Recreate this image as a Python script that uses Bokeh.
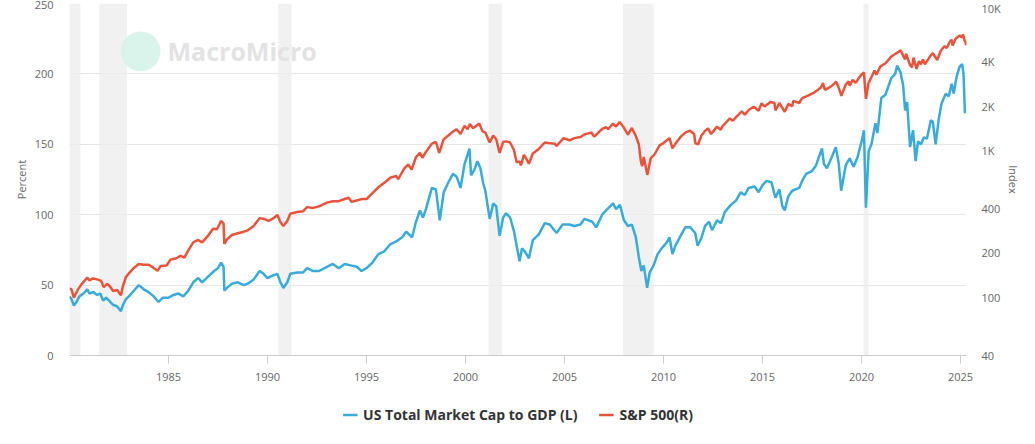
from bokeh.plotting import figure
from bokeh.layouts import column
from bokeh.models import (Range1d, LogAxis, LogScale, FixedTicker, Legend, LegendItem,
                          ColumnDataSource)
from bokeh.core.properties import value
from bokeh.embed import file_html
from bokeh.resources import INLINE

# ---------------- data ----------------
mcap_years = [1980.00, 1980.10, 1980.22, 1980.35, 1980.50, 1980.70, 1980.90, 1981.00, 1981.20, 1981.40,
              1981.55, 1981.70, 1981.85, 1982.00, 1982.20, 1982.40, 1982.60, 1982.70, 1982.85, 1983.00,
              1983.25, 1983.50, 1983.75, 1984.00, 1984.25, 1984.50, 1984.70, 1985.00, 1985.25, 1985.50,
              1985.75, 1986.00, 1986.25, 1986.50, 1986.70, 1987.00, 1987.30, 1987.50, 1987.65, 1987.78,
              1987.82, 1987.95, 1988.20, 1988.50, 1988.80, 1989.00, 1989.30, 1989.60, 1989.80, 1990.00,
              1990.30, 1990.50, 1990.65, 1990.80, 1991.00, 1991.15, 1991.50, 1991.80, 1992.00, 1992.30,
              1992.60, 1993.00, 1993.30, 1993.60, 1993.90, 1994.20, 1994.50, 1994.75, 1995.00, 1995.30,
              1995.60, 1995.90, 1996.20, 1996.50, 1996.80, 1997.00, 1997.30, 1997.50, 1997.70, 1997.85,
              1998.00, 1998.30, 1998.50, 1998.70, 1998.90, 1999.10, 1999.36, 1999.55, 1999.75, 1999.95,
              2000.20, 2000.28, 2000.45, 2000.60, 2000.75, 2000.90, 2001.00, 2001.22, 2001.40, 2001.55,
              2001.72, 2001.90, 2002.05, 2002.25, 2002.45, 2002.58, 2002.73, 2002.85, 2003.00, 2003.20,
              2003.40, 2003.70, 2004.00, 2004.25, 2004.60, 2004.90, 2005.25, 2005.50, 2005.80, 2006.00,
              2006.40, 2006.60, 2006.90, 2007.10, 2007.45, 2007.60, 2007.80, 2008.00, 2008.20, 2008.40,
              2008.60, 2008.75, 2008.88, 2009.00, 2009.17, 2009.30, 2009.50, 2009.70, 2009.96, 2010.15,
              2010.30, 2010.45, 2010.60, 2010.90, 2011.10, 2011.35, 2011.60, 2011.72, 2011.90, 2012.10,
              2012.30, 2012.45, 2012.70, 2012.90, 2013.10, 2013.40, 2013.66, 2013.90, 2014.10, 2014.30,
              2014.60, 2014.80, 2015.00, 2015.20, 2015.45, 2015.65, 2015.85, 2016.00, 2016.12, 2016.30,
              2016.50, 2016.85, 2017.00, 2017.20, 2017.50, 2017.70, 2018.00, 2018.10, 2018.25, 2018.50,
              2018.70, 2018.85, 2018.97, 2019.20, 2019.40, 2019.60, 2019.80, 2020.00, 2020.12, 2020.22,
              2020.36, 2020.50, 2020.70, 2020.80, 2021.00, 2021.20, 2021.50, 2021.70, 2021.80, 2021.97,
              2022.10, 2022.20, 2022.30, 2022.45, 2022.60, 2022.73, 2022.85, 2023.00, 2023.15, 2023.30,
              2023.50, 2023.60, 2023.74, 2023.90, 2024.04, 2024.25, 2024.40, 2024.55, 2024.65, 2024.80,
              2024.95, 2025.08, 2025.15, 2025.22]
mcap_to_gdp = [42, 40, 35.5, 38, 42, 44, 47, 44, 45, 43,
               44, 39, 41, 39, 36, 35, 31.5, 36, 40, 42,
               46, 50, 47, 45, 42, 38, 41, 41, 43, 44,
               42, 46, 52, 55, 52, 56, 60, 62, 66, 63,
               46, 48, 51, 52, 50, 51, 54, 60, 58, 55,
               57, 58, 52, 48, 52, 58, 59, 59, 62, 60,
               60, 63, 65, 62, 65, 64, 63, 60, 62, 66,
               72, 74, 79, 81, 84, 88, 84, 95, 103, 98,
               104, 119, 118, 96, 116, 122, 129, 127, 119, 136,
               147, 128, 132, 138, 133, 122, 117, 97, 108, 106,
               85, 98, 101, 98, 88, 78, 67, 76, 74, 69,
               82, 86, 94, 93, 87, 93, 93, 92, 93, 97,
               95, 91, 100, 103, 108, 104, 107, 96, 92, 93,
               84, 70, 60, 64, 48, 59, 64, 72, 77, 80,
               84, 72, 78, 86, 91, 91, 87, 78, 83, 92,
               95, 89, 96, 94, 102, 107, 110, 116, 114, 119,
               120, 116, 121, 124, 123, 112, 118, 106, 103, 113,
               117, 119, 124, 129, 131, 135, 147, 136, 133, 141,
               148, 136, 117, 135, 140, 134, 141, 152, 160, 105,
               145, 150, 165, 158, 183, 185, 197, 200, 206, 201,
               192, 174, 180, 148, 160, 138, 152, 150, 155, 154,
               167, 166, 150, 168, 179, 186, 184, 193, 186, 198,
               205, 207, 200, 172]

spx_years = [1980.00, 1980.10, 1980.22, 1980.40, 1980.60, 1980.90, 1981.00, 1981.20, 1981.40, 1981.60,
             1981.72, 1981.90, 1982.05, 1982.20, 1982.40, 1982.60, 1982.70, 1982.85, 1983.00, 1983.25,
             1983.50, 1983.75, 1984.00, 1984.25, 1984.45, 1984.60, 1984.90, 1985.10, 1985.40, 1985.60,
             1985.80, 1986.00, 1986.25, 1986.50, 1986.70, 1987.00, 1987.25, 1987.45, 1987.65, 1987.78,
             1987.82, 1987.95, 1988.20, 1988.50, 1988.80, 1989.00, 1989.30, 1989.60, 1989.85, 1990.05,
             1990.30, 1990.50, 1990.65, 1990.80, 1991.00, 1991.15, 1991.50, 1991.80, 1992.00, 1992.30,
             1992.60, 1993.00, 1993.30, 1993.60, 1993.90, 1994.10, 1994.25, 1994.50, 1994.75, 1995.00,
             1995.30, 1995.60, 1995.90, 1996.20, 1996.50, 1996.60, 1996.90, 1997.10, 1997.28, 1997.50,
             1997.70, 1997.82, 1998.00, 1998.30, 1998.50, 1998.67, 1998.90, 1999.10, 1999.36, 1999.55,
             1999.75, 1999.95, 2000.10, 2000.22, 2000.38, 2000.55, 2000.70, 2000.85, 2001.00, 2001.22,
             2001.40, 2001.55, 2001.72, 2001.90, 2002.05, 2002.25, 2002.45, 2002.58, 2002.73, 2002.80,
             2002.95, 2003.10, 2003.20, 2003.40, 2003.70, 2004.00, 2004.20, 2004.50, 2004.60, 2004.95,
             2005.25, 2005.50, 2005.80, 2006.00, 2006.35, 2006.50, 2006.90, 2007.10, 2007.20, 2007.45,
             2007.60, 2007.78, 2007.95, 2008.20, 2008.40, 2008.60, 2008.75, 2008.85, 2008.92, 2009.00,
             2009.18, 2009.35, 2009.55, 2009.80, 2010.00, 2010.30, 2010.45, 2010.60, 2010.90, 2011.10,
             2011.33, 2011.55, 2011.60, 2011.75, 2011.90, 2012.10, 2012.25, 2012.40, 2012.70, 2012.88,
             2013.00, 2013.35, 2013.50, 2013.70, 2013.95, 2014.10, 2014.30, 2014.55, 2014.80, 2014.95,
             2015.10, 2015.40, 2015.60, 2015.65, 2015.85, 2016.00, 2016.12, 2016.30, 2016.50, 2016.55,
             2016.85, 2017.00, 2017.30, 2017.60, 2017.95, 2018.05, 2018.15, 2018.30, 2018.50, 2018.72,
             2018.85, 2018.98, 2019.20, 2019.35, 2019.40, 2019.55, 2019.70, 2019.95, 2020.12, 2020.22,
             2020.35, 2020.50, 2020.65, 2020.75, 2020.95, 2021.20, 2021.50, 2021.70, 2021.98, 2022.10,
             2022.20, 2022.25, 2022.45, 2022.55, 2022.62, 2022.78, 2022.90, 2023.00, 2023.10, 2023.20,
             2023.50, 2023.60, 2023.82, 2024.00, 2024.20, 2024.30, 2024.45, 2024.55, 2024.60, 2024.75,
             2024.95, 2025.05, 2025.13, 2025.20, 2025.25, 2025.28]
spx_index = [114, 113, 99, 111, 122, 136, 130, 134, 132, 129,
             117, 123, 118, 110, 112, 103, 119, 137, 145, 158,
             168, 166, 166, 158, 151, 163, 164, 180, 184, 191,
             186, 208, 236, 245, 236, 262, 292, 290, 330, 318,
             230, 247, 265, 272, 279, 285, 305, 345, 340, 330,
             345, 362, 325, 305, 330, 370, 380, 385, 410, 405,
             415, 440, 450, 450, 466, 475, 445, 455, 465, 465,
             510, 560, 600, 650, 670, 635, 750, 800, 740, 900,
             960, 890, 975, 1110, 1140, 960, 1190, 1250, 1340, 1390,
             1290, 1470, 1390, 1510, 1410, 1470, 1520, 1350, 1320, 1130,
             1260, 1190, 960, 1140, 1150, 1130, 1000, 830, 840, 790,
             930, 860, 810, 950, 1020, 1130, 1120, 1110, 1070, 1210,
             1170, 1210, 1230, 1280, 1320, 1240, 1400, 1440, 1390, 1520,
             1450, 1560, 1460, 1280, 1420, 1250, 1100, 850, 780, 900,
             680, 880, 940, 1080, 1120, 1210, 1030, 1110, 1250, 1320,
             1360, 1290, 1120, 1100, 1250, 1360, 1410, 1290, 1450, 1380,
             1470, 1650, 1590, 1700, 1840, 1750, 1880, 1980, 1860, 2090,
             1990, 2130, 2100, 1870, 2100, 1940, 1830, 2070, 2000, 2170,
             2100, 2270, 2360, 2470, 2680, 2870, 2580, 2640, 2750, 2930,
             2660, 2350, 2800, 2950, 2750, 3020, 2880, 3230, 3390, 2240,
             2870, 3150, 3500, 3270, 3730, 3900, 4350, 4530, 4790, 4400,
             4170, 4540, 3800, 3670, 4280, 3580, 4050, 3850, 4150, 3850,
             4450, 4580, 4120, 4770, 5130, 4970, 5470, 5660, 5180, 5750,
             6050, 5880, 6140, 5600, 5500, 5200]

recession_start = [1980.00, 1981.50, 1990.54, 2001.16, 2007.95, 2020.10]
recession_end = [1980.55, 1982.91, 1991.21, 2001.84, 2009.50, 2020.35]

left_ticks = [0, 50, 100, 150, 200, 250]
right_ticks = [40, 100, 200, 400, 1000, 2000, 4000, 10000]
right_tick_labels = ["40", "100", "200", "400", "1K", "2K", "4K", "10K"]
year_ticks = [1985, 1990, 1995, 2000, 2005, 2010, 2015, 2020, 2025]
series_names = ["US Total Market Cap to GDP (L)", "S&P 500(R)"]

BLUE = "#38abd9"
RED = "#e8533b"
FONT = "Open Sans"
LW = 2.5

# ---------------- main figure ----------------
p = figure(output_backend="svg", toolbar_location=None,
           x_range=Range1d(1980.0, 2025.3), y_range=Range1d(0, 250),
           frame_width=897, frame_height=352,
           min_border_left=69, min_border_right=69, min_border_top=3, min_border_bottom=40,
           outline_line_color=None, background_fill_color="white", border_fill_color="white")

p.extra_y_ranges = {"r": Range1d(40, 10000)}
p.extra_y_scales = {"r": LogScale()}

# recession shading
p.quad(left=recession_start, right=recession_end, bottom=0, top=250,
       fill_color="#ececec", fill_alpha=0.75, line_color=None)

# watermark
p.scatter(x=[1983.59], y=[216.0], size=40, marker="circle", fill_color="#d6f3ea",
          line_color=None, fill_alpha=0.9)
p.text(x=[1984.95], y=[216.5], text=["MacroMicro"], text_font=value(FONT),
       text_font_size="25px", text_color="#e3e3e3", text_baseline="middle",
       text_align="left", text_font_style="bold")

# series
src_b = ColumnDataSource(dict(x=mcap_years, y=mcap_to_gdp))
src_r = ColumnDataSource(dict(x=spx_years, y=spx_index))
p.line("x", "y", source=src_b, line_color=BLUE, line_width=LW)
p.line("x", "y", source=src_r, line_color=RED, line_width=LW, y_range_name="r")

# x axis
xa = p.xaxis[0]
xa.ticker = FixedTicker(ticks=year_ticks)
xa.major_label_overrides = {y: str(y) for y in year_ticks}
xa.axis_line_color = "#cccccc"
xa.major_tick_line_color = "#cccccc"
xa.major_tick_out = 8
xa.major_tick_in = 0
xa.minor_tick_line_color = None
xa.minor_tick_out = 0
xa.major_label_standoff = 9
xa.major_label_text_font = FONT
xa.major_label_text_font_size = "11px"
xa.major_label_text_color = "#666666"

# left axis
ya = p.yaxis[0]
ya.ticker = FixedTicker(ticks=left_ticks)
ya.major_label_overrides = {t: str(t) for t in left_ticks}
ya.axis_line_color = None
ya.major_tick_line_color = None
ya.minor_tick_line_color = None
ya.major_tick_out = 0
ya.minor_tick_out = 0
ya.major_label_standoff = 16
ya.major_label_text_font = FONT
ya.major_label_text_font_size = "11px"
ya.major_label_text_color = "#666666"
ya.axis_label = "Percent"
ya.axis_label_text_font = FONT
ya.axis_label_text_font_style = "normal"
ya.axis_label_text_font_size = "11px"
ya.axis_label_text_color = "#666666"
ya.axis_label_standoff = 3

# right axis (log)
ra = LogAxis(y_range_name="r", ticker=FixedTicker(ticks=right_ticks),
             major_label_overrides={t: l for t, l in zip(right_ticks, right_tick_labels)})
ra.axis_line_color = None
ra.major_tick_line_color = None
ra.minor_tick_line_color = None
ra.major_tick_out = 0
ra.minor_tick_out = 0
ra.major_label_standoff = 15
ra.major_label_text_font = FONT
ra.major_label_text_font_size = "11px"
ra.major_label_text_color = "#666666"
ra.axis_label = "Index"
ra.axis_label_text_font = FONT
ra.axis_label_text_font_style = "normal"
ra.axis_label_text_font_size = "11px"
ra.axis_label_text_color = "#666666"
ra.axis_label_standoff = 2
p.add_layout(ra, "right")

# grids
p.xgrid.grid_line_color = None
p.ygrid.ticker = FixedTicker(ticks=left_ticks)
p.ygrid.grid_line_color = "#e6e6e6"

# ---------------- legend strip ----------------
lg = figure(width=1035, height=38, output_backend="svg", toolbar_location=None,
            x_range=Range1d(0, 1), y_range=Range1d(0, 1),
            x_axis_location=None, y_axis_location=None, min_border=0,
            outline_line_color=None, background_fill_color="white", border_fill_color="white")
lg.grid.visible = False
# key renderers reuse the series data, which lies outside this strip's ranges
kb = lg.line(mcap_years, mcap_to_gdp, line_color=BLUE, line_width=LW)
kr = lg.line(spx_years, spx_index, line_color=RED, line_width=LW)
legend = Legend(items=[LegendItem(label=series_names[0], renderers=[kb]),
                       LegendItem(label=series_names[1], renderers=[kr])],
                orientation="horizontal", location="center",
                border_line_color=None, background_fill_alpha=0,
                label_text_font=FONT, label_text_font_style="bold",
                label_text_font_size="14px", label_text_color="#333333",
                glyph_width=15, glyph_height=16, label_standoff=6, spacing=21,
                padding=0, margin=0, label_height=16)
lg.add_layout(legend, "center")

layout = column(p, lg, spacing=0)
open("out.html", "w").write(file_html(layout, INLINE))
